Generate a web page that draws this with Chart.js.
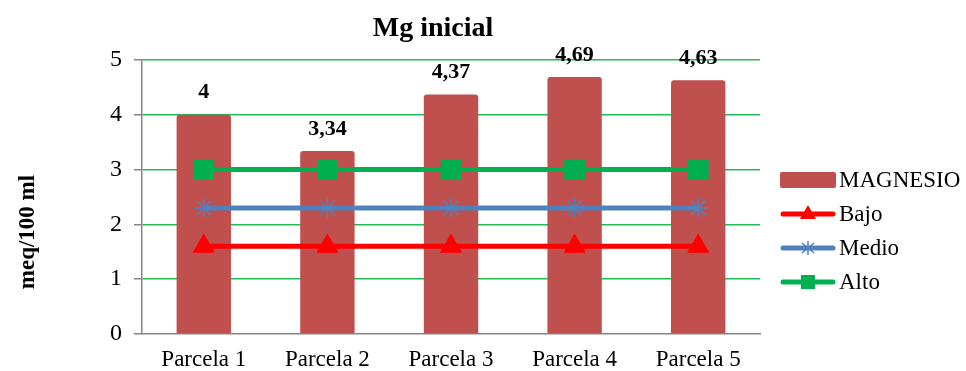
<!DOCTYPE html>
<html lang="es">
<head>
<meta charset="UTF-8" />
<title>Mg inicial</title>
<script src="https://cdn.jsdelivr.net/npm/chart.js"></script>
<style>
  html, body { margin: 0; padding: 0; background: #fff; }
  #wrap { width: 966px; height: 371px; }
</style>
</head>
<body>
<div id="wrap"><canvas id="mgChart" width="966" height="371"></canvas></div>
<script>
  // datos
  const parcelas = ["Parcela 1", "Parcela 2", "Parcela 3", "Parcela 4", "Parcela 5"];
  const magnesio = [4, 3.34, 4.37, 4.69, 4.63];
  const bajo = [1.6, 1.6, 1.6, 1.6, 1.6];
  const medio = [2.3, 2.3, 2.3, 2.3, 2.3];
  const alto = [3, 3, 3, 3, 3];
  const yTicks = [0, 1, 2, 3, 4, 5];

  const serif = "'Liberation Serif', 'Times New Roman', serif";
  const RED_BAR = "#C0504D";
  const RED = "#FF0000";
  const BLUE = "#4F81BD";
  const GREEN = "#00B050";

  // titulo, etiqueta del eje, valores sobre las barras y leyenda
  const extras = {
    id: "extras",
    afterDatasetsDraw(chart) {
      const ctx = chart.ctx;
      ctx.save();
      ctx.fillStyle = "#000";
      ctx.textAlign = "center";
      ctx.textBaseline = "middle";

      ctx.font = "bold 28px " + serif;
      ctx.fillText("Mg inicial", 433, 29);

      ctx.save();
      ctx.translate(28, 232);
      ctx.rotate(-Math.PI / 2);
      ctx.font = "bold 23px " + serif;
      ctx.fillText("meq/100 ml", 0, 0);
      ctx.restore();

      ctx.font = "bold 22px " + serif;
      chart.getDatasetMeta(0).data.forEach((bar, i) => {
        ctx.fillText(String(magnesio[i]).replace(".", ","), bar.x, bar.y - 22);
      });

      // leyenda
      const lx = 780, lw = 56, tx = 839;
      ctx.textAlign = "left";
      ctx.font = "23px " + serif;
      const rows = [
        { label: "MAGNESIO", y: 180, type: "box", color: RED_BAR },
        { label: "Bajo", y: 214, type: "triangle", color: RED },
        { label: "Medio", y: 248, type: "star", color: BLUE },
        { label: "Alto", y: 282, type: "rect", color: GREEN }
      ];
      rows.forEach(r => {
        if (r.type === "box") {
          ctx.fillStyle = r.color;
          ctx.beginPath();
          ctx.roundRect(lx, r.y - 8, lw, 16, 2);
          ctx.fill();
        } else {
          ctx.strokeStyle = r.color;
          ctx.lineWidth = 5;
          ctx.lineCap = "round";
          ctx.beginPath();
          ctx.moveTo(lx + 3, r.y);
          ctx.lineTo(lx + lw - 3, r.y);
          ctx.stroke();
          const cx = lx + lw / 2;
          ctx.fillStyle = r.color;
          if (r.type === "triangle") {
            ctx.beginPath();
            ctx.moveTo(cx, r.y - 9);
            ctx.lineTo(cx + 8, r.y + 5);
            ctx.lineTo(cx - 8, r.y + 5);
            ctx.closePath();
            ctx.fill();
          } else if (r.type === "rect") {
            ctx.fillRect(cx - 7, r.y - 7, 14, 14);
          } else {
            ctx.lineWidth = 1.5;
            ctx.lineCap = "butt";
            ctx.beginPath();
            ctx.moveTo(cx, r.y - 7); ctx.lineTo(cx, r.y + 7);
            ctx.moveTo(cx - 6, r.y - 5); ctx.lineTo(cx + 6, r.y + 5);
            ctx.moveTo(cx + 6, r.y - 5); ctx.lineTo(cx - 6, r.y + 5);
            ctx.stroke();
          }
        }
        ctx.fillStyle = "#000";
        ctx.fillText(r.label, tx, r.y + 1);
      });
      ctx.restore();
    }
  };

  new Chart(document.getElementById("mgChart"), {
    data: {
      labels: parcelas,
      datasets: [
        {
          type: "bar",
          label: "MAGNESIO",
          data: magnesio,
          backgroundColor: RED_BAR,
          borderRadius: 3,
          borderSkipped: "bottom",
          barPercentage: 0.44,
          categoryPercentage: 1,
          order: 2
        },
        {
          type: "line",
          label: "Bajo",
          data: bajo,
          borderColor: RED,
          backgroundColor: RED,
          borderWidth: 5,
          pointStyle: "triangle",
          pointRadius: 12,
          pointBorderWidth: 1,
          order: 1
        },
        {
          type: "line",
          label: "Medio",
          data: medio,
          borderColor: BLUE,
          backgroundColor: BLUE,
          borderWidth: 5,
          pointStyle: "star",
          pointRadius: 10,
          pointBorderWidth: 1.5,
          order: 1
        },
        {
          type: "line",
          label: "Alto",
          data: alto,
          borderColor: GREEN,
          backgroundColor: GREEN,
          borderWidth: 5,
          pointStyle: "rect",
          pointRadius: 14,
          pointBorderWidth: 1,
          order: 1
        }
      ]
    },
    options: {
      responsive: false,
      animation: false,
      layout: { padding: { top: 60, right: 206, left: 0, bottom: 0 } },
      plugins: {
        legend: { display: false },
        title: { display: false },
        tooltip: { enabled: false }
      },
      scales: {
        x: {
          grid: { display: false, drawTicks: false },
          border: { color: "#868686", width: 1.5 },
          ticks: { color: "#000", font: { family: serif, size: 23 }, padding: 12 },
          afterFit(s) { s.height = 37; }
        },
        y: {
          min: 0,
          max: 5,
          afterBuildTicks(s) { s.ticks = yTicks.map(v => ({ value: v })); },
          grid: {
            color: ctx => ctx.tick && ctx.tick.value === 0 ? "rgba(0,0,0,0)" : "#22BB55",
            lineWidth: 1.5,
            drawTicks: true,
            tickLength: 8,
            tickColor: "#868686"
          },
          border: { color: "#868686", width: 1.5 },
          ticks: { color: "#000", font: { family: serif, size: 24 }, padding: 12 },
          afterFit(s) { s.width = 142; }
        }
      }
    },
    plugins: [extras]
  });
</script>
</body>
</html>
